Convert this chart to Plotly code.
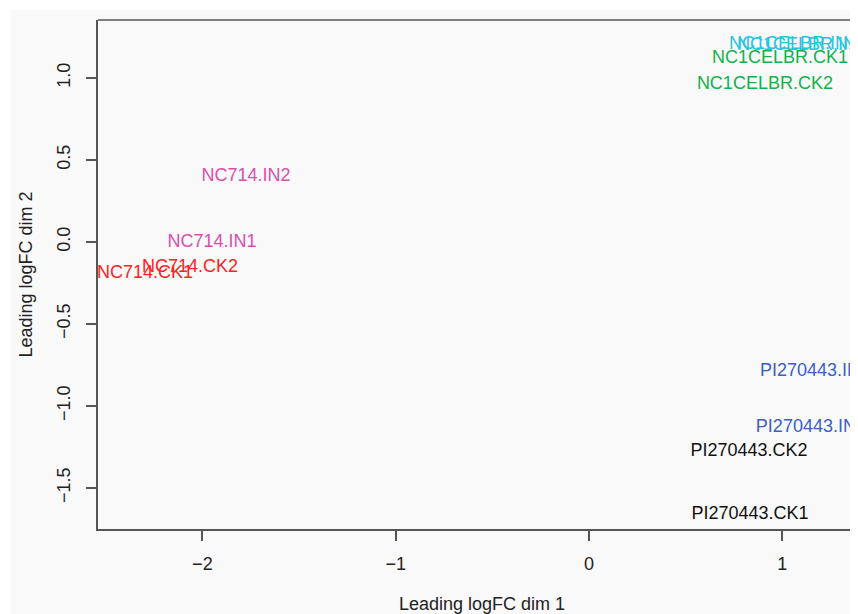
import plotly.graph_objects as go

# Sample labels and MDS coordinates (leading logFC dims)
labels = ["NC714.CK1", "NC714.CK2", "NC714.IN1", "NC714.IN2",
          "NC1CELBR.CK1", "NC1CELBR.CK2", "NC1CELBR.IN1", "NC1CELBR.IN2",
          "PI270443.CK1", "PI270443.CK2", "PI270443.IN1", "PI270443.IN2"]
dim1 = [-2.297, -2.064, -1.950, -1.774,
        0.988, 0.910, 1.058, 1.099,
        0.833, 0.828, 1.148, 1.169]
dim2 = [-0.189, -0.158, 0.000, 0.397,
        1.122, 0.958, 1.207, 1.197,
        -1.664, -1.280, -1.128, -0.792]
colors = ["#FF2222", "#FF2222", "#DA4FAE", "#DA4FAE",
          "#12B24B", "#12B24B", "#27C4E0", "#27C4E0",
          "#111111", "#111111", "#3A60C4", "#3A60C4"]

x_ticks = [-2, -1, 0, 1]
x_tick_labels = ["\u22122", "\u22121", "0", "1"]
y_ticks = [1.0, 0.5, 0.0, -0.5, -1.0, -1.5]
y_tick_labels = ["1.0", "0.5", "0.0", "\u22120.5", "\u22121.0", "\u22121.5"]

FONT = "Liberation Sans, Arial, sans-serif"

fig = go.Figure()
fig.add_trace(go.Scatter(
    x=dim1, y=dim2, mode="text", text=labels,
    textposition="middle center",
    textfont=dict(family=FONT, size=18, color=colors),
    hoverinfo="text", showlegend=False, cliponaxis=False,
))

axis_line = "#555555"
fig.update_layout(
    width=858, height=606,
    margin=dict(l=90, r=0, t=12, b=85),
    paper_bgcolor="white",
    plot_bgcolor="rgba(0,0,0,0)",
    font=dict(family=FONT, size=18, color="#222222"),
    xaxis=dict(
        range=[-2.54, 1.433], tickvals=x_ticks, ticktext=x_tick_labels,
        showgrid=False, zeroline=False, showline=True, linecolor=axis_line,
        linewidth=1.5, ticks="outside", ticklen=10, tickcolor=axis_line,
        tickwidth=1.5, ticklabelstandoff=8,
        title=dict(text="Leading logFC dim 1", standoff=28,
                   font=dict(size=18, color="#222222")),
        tickfont=dict(size=18, color="#222222"),
    ),
    yaxis=dict(
        range=[-1.75, 1.354], tickvals=y_ticks, ticktext=y_tick_labels,
        showgrid=False, zeroline=False, showline=True, linecolor=axis_line,
        linewidth=1.5, ticks="outside", ticklen=10, tickcolor=axis_line,
        tickwidth=1.5, tickangle=-90, ticklabelstandoff=9,
        title=dict(text="Leading logFC dim 2", standoff=17,
                   font=dict(size=18, color="#222222")),
        tickfont=dict(size=18, color="#222222"),
    ),
    shapes=[
        # light grey page background (white strip at top and left)
        dict(type="rect", xref="paper", yref="paper",
             x0=-0.114, x1=1.1, y0=-0.2, y1=1.0196,
             fillcolor="#F9F9F9", line=dict(width=0), layer="below"),
        # top border of the plot box
        dict(type="line", xref="paper", yref="paper",
             x0=0, x1=1.05, y0=1, y1=1,
             line=dict(color=axis_line, width=1.5)),
    ],
)

fig.write_html("out.html")
